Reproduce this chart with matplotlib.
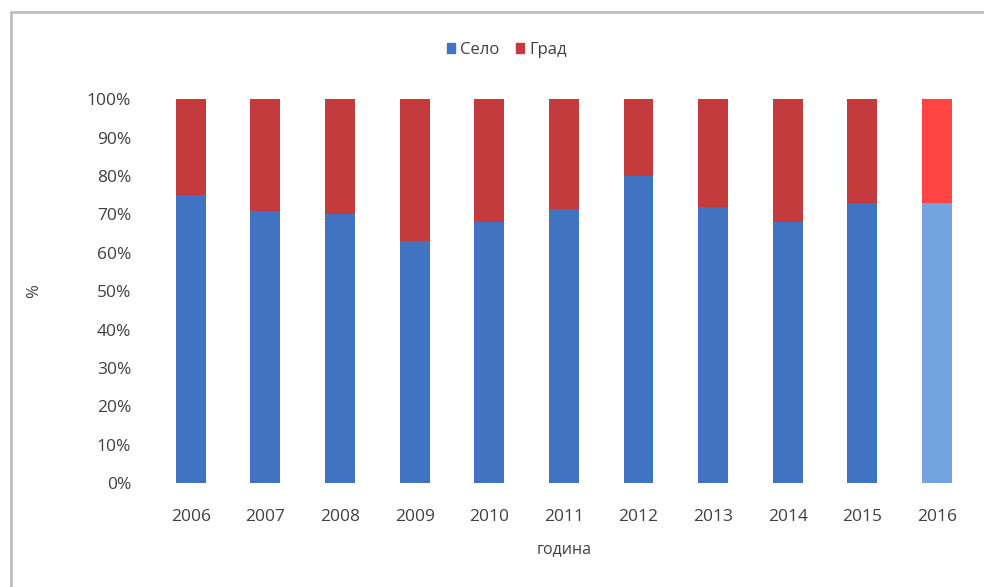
import matplotlib.pyplot as plt
from matplotlib.patches import Rectangle
from matplotlib.ticker import PercentFormatter

years = ['2006', '2007', '2008', '2009', '2010', '2011', '2012', '2013', '2014', '2015', '2016']
selo = [75, 71, 70, 63, 68, 71.5, 80, 72, 68, 73, 73]
grad = [100 - v for v in selo]

blue = '#4074C2'
red = '#C43B3E'
blue_light = '#74A4DE'
red_light = '#FF4442'
txt = '#404040'

plt.rcParams['font.family'] = ['Open Sans', 'DejaVu Sans']

fig = plt.figure(figsize=(9.84, 5.87), dpi=100)
ax = fig.add_axes([0.156, 0.177, 0.834, 0.654])

x = list(range(len(years)))
c_selo = [blue] * (len(years) - 1) + [blue_light]
c_grad = [red] * (len(years) - 1) + [red_light]

ax.bar(x, selo, width=0.4, color=c_selo, label='Село')
ax.bar(x, grad, width=0.4, bottom=selo, color=c_grad, label='Град')

ax.set_xlim(-0.5, 10.5)
ax.set_ylim(0, 100)
ax.set_yticks(range(0, 101, 10))
ax.yaxis.set_major_formatter(PercentFormatter(decimals=0))
ax.set_xticks(x)
ax.set_xticklabels(years)
ax.tick_params(length=0, labelsize=12.5, colors=txt)
ax.tick_params(axis='x', pad=19)
ax.tick_params(axis='y', pad=16)
for s in ax.spines.values():
    s.set_visible(False)

ax.set_xlabel('година', color=txt, fontsize=11.5, labelpad=11)
ax.set_ylabel('%', color=txt, fontsize=12, labelpad=32)

handles = [Rectangle((0, 0), 1, 1, color=blue), Rectangle((0, 0), 1, 1, color=red)]
fig.legend(handles, ['Село', 'Град'], loc='center', bbox_to_anchor=(0.515, 0.915),
           ncol=2, frameon=False, fontsize=12, labelcolor=txt,
           handlelength=0.5, handleheight=0.5, handletextpad=0.3, columnspacing=1.0)

# рамка вокруг диаграммы
fig.patches.append(Rectangle((0.011, -0.01), 0.99, 0.99, transform=fig.transFigure,
                             fill=False, edgecolor='#BFBFBF', linewidth=2))

fig.savefig('out.png', dpi=100)
